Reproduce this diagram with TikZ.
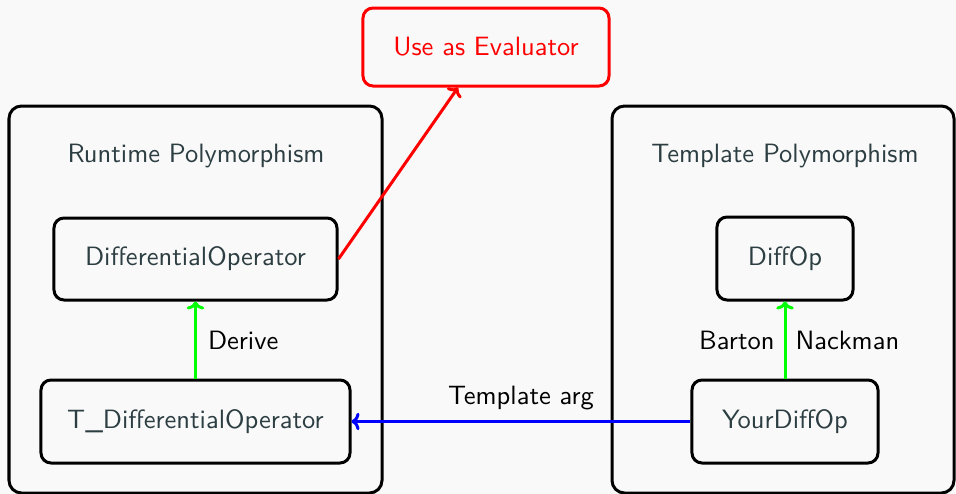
\documentclass[tikz,border=0pt]{standalone}
\usetikzlibrary{arrows.meta}
\definecolor{bgc}{RGB}{249,249,249}
\definecolor{txtc}{RGB}{44,62,66}
\begin{document}
\begin{tikzpicture}[x=0.4pt,y=-0.4pt,
  font=\sffamily\fontsize{10.6}{12.7}\selectfont,
  group/.style={draw=black,line width=1.2pt,rounded corners=5pt,text=txtc},
  cls/.style={draw=black,line width=1.2pt,rounded corners=4pt,text=txtc,inner sep=0pt},
  lab/.style={text=black,inner sep=0pt},
  arr/.style={line width=1.2pt,-{To[length=3.2pt,width=7pt]}}]
\fill[bgc] (0,0) rectangle (956,494);
\useasboundingbox (0,0) rectangle (956,494);
% groups
\draw[group] (9,106) rectangle (382,493);
\draw[group] (612,106) rectangle (954,493);
\node[text=txtc] (rt) at (196,156) {Runtime Polymorphism};
\node[text=txtc] (tp) at (785,156) {Template Polymorphism};
% nodes
\node[cls,draw=red,text=red,minimum width=98.4pt,minimum height=31.2pt] (use) at (486,47) {Use as Evaluator};
\node[cls,minimum width=113.2pt,minimum height=32.8pt] (dop) at (195.5,259) {DifferentialOperator};
\node[cls,minimum width=123.6pt,minimum height=33.2pt] (tdop) at (195.5,421.5) {T\_DifferentialOperator};
\node[cls,minimum width=54.4pt,minimum height=33.2pt] (diff) at (785,258.5) {DiffOp};
\node[cls,minimum width=74.4pt,minimum height=33.2pt] (your) at (785,421.5) {YourDiffOp};
% connectors
\coordinate (usein) at ([xshift=-11.2pt]use.south);
\draw[arr,red] (dop.east) -- (usein);
\draw[arr,green] (tdop.north) -- (dop.south) node[lab,midway,right=4.4pt] {Derive};
\draw[arr,green] (your.north) -- (diff.south)
  node[lab,midway,left=3.6pt] {Barton}
  node[lab,midway,right=3.6pt] {Nackman};
\draw[arr,blue] (your.west) -- (tdop.east) node[lab,midway,above=4pt] {Template arg};
\end{tikzpicture}
\end{document}
